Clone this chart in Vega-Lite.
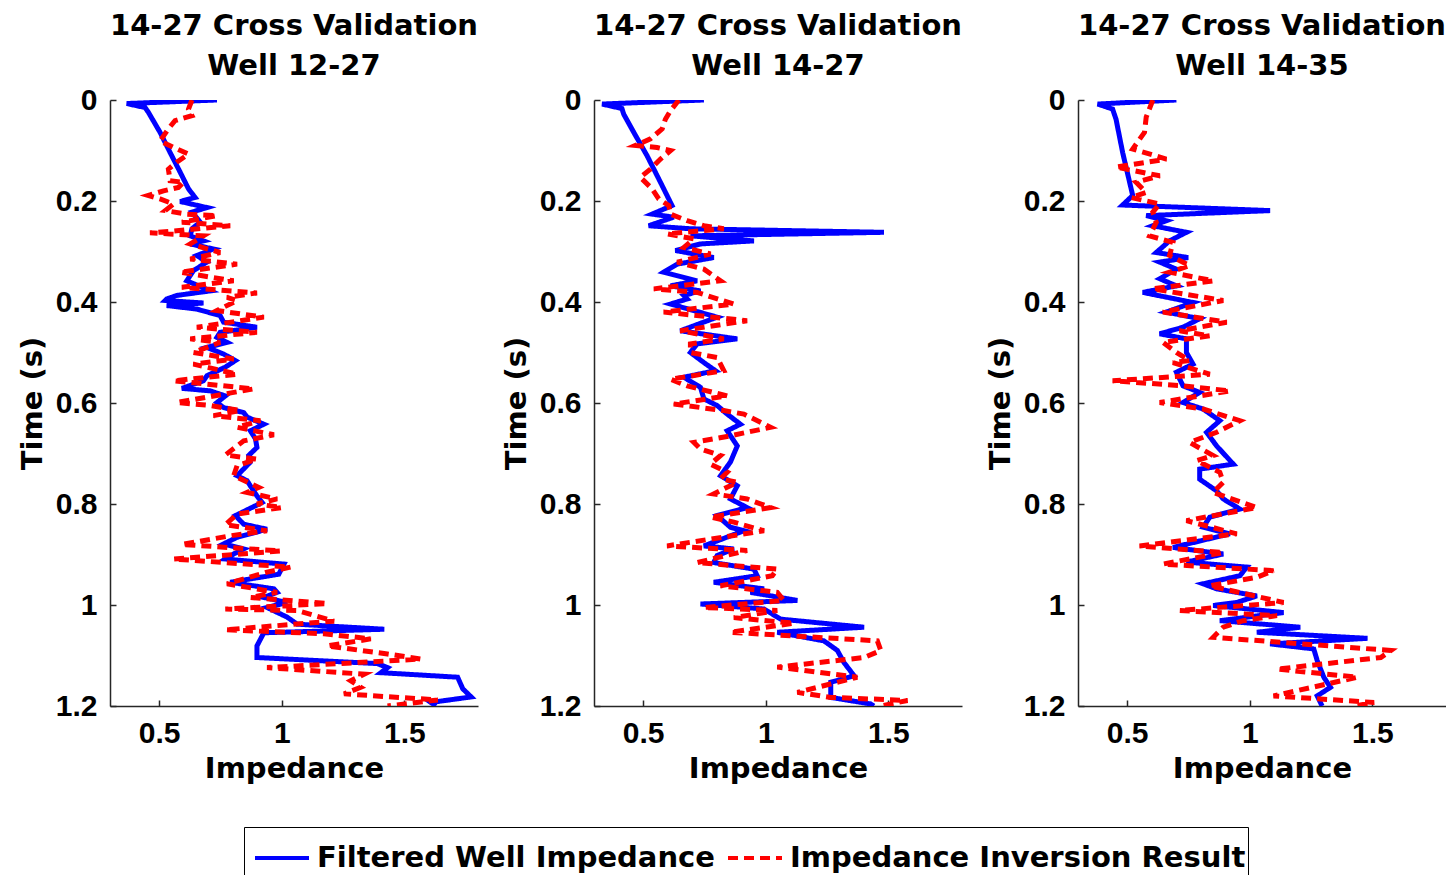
{
  "$schema": "https://vega.github.io/schema/vega-lite/v6.json",
  "background": "white",
  "padding": {"left": 18, "top": 12, "right": 0, "bottom": 0},
  "autosize": {"type": "pad"},
  "spacing": 24,
  "datasets": {
    "p1": [
      {"s":"well","t":0,"v":0.736},{"s":"well","t":0.007,"v":0.368},{"s":"well","t":0.015,"v":0.443},{"s":"well","t":0.024,"v":0.456},{"s":"well","t":0.064,"v":0.504},{"s":"well","t":0.104,"v":0.545},{"s":"well","t":0.143,"v":0.586},{"s":"well","t":0.176,"v":0.62},{"s":"well","t":0.193,"v":0.647},{"s":"well","t":0.201,"v":0.586},{"s":"well","t":0.213,"v":0.695},{"s":"well","t":0.222,"v":0.634},{"s":"well","t":0.242,"v":0.668},{"s":"well","t":0.255,"v":0.634},{"s":"well","t":0.269,"v":0.627},{"s":"well","t":0.279,"v":0.681},{"s":"well","t":0.285,"v":0.627},{"s":"well","t":0.295,"v":0.722},{"s":"well","t":0.308,"v":0.654},{"s":"well","t":0.321,"v":0.695},{"s":"well","t":0.338,"v":0.64},{"s":"well","t":0.358,"v":0.613},{"s":"well","t":0.378,"v":0.709},{"s":"well","t":0.387,"v":0.572},{"s":"well","t":0.394,"v":0.531},{"s":"well","t":0.397,"v":0.525},{"s":"well","t":0.402,"v":0.681},{"s":"well","t":0.407,"v":0.531},{"s":"well","t":0.414,"v":0.654},{"s":"well","t":0.427,"v":0.749},{"s":"well","t":0.44,"v":0.763},{"s":"well","t":0.45,"v":0.899},{"s":"well","t":0.46,"v":0.749},{"s":"well","t":0.47,"v":0.736},{"s":"well","t":0.48,"v":0.777},{"s":"well","t":0.49,"v":0.695},{"s":"well","t":0.503,"v":0.763},{"s":"well","t":0.516,"v":0.811},{"s":"well","t":0.529,"v":0.77},{"s":"well","t":0.546,"v":0.695},{"s":"well","t":0.556,"v":0.681},{"s":"well","t":0.571,"v":0.593},{"s":"well","t":0.576,"v":0.709},{"s":"well","t":0.586,"v":0.77},{"s":"well","t":0.599,"v":0.736},{"s":"well","t":0.609,"v":0.763},{"s":"well","t":0.619,"v":0.845},{"s":"well","t":0.628,"v":0.859},{"s":"well","t":0.642,"v":0.927},{"s":"well","t":0.655,"v":0.872},{"s":"well","t":0.671,"v":0.893},{"s":"well","t":0.688,"v":0.899},{"s":"well","t":0.704,"v":0.865},{"s":"well","t":0.717,"v":0.872},{"s":"well","t":0.744,"v":0.818},{"s":"well","t":0.754,"v":0.859},{"s":"well","t":0.764,"v":0.872},{"s":"well","t":0.784,"v":0.899},{"s":"well","t":0.797,"v":0.92},{"s":"well","t":0.823,"v":0.811},{"s":"well","t":0.84,"v":0.845},{"s":"well","t":0.85,"v":0.94},{"s":"well","t":0.866,"v":0.818},{"s":"well","t":0.879,"v":0.763},{"s":"well","t":0.889,"v":0.845},{"s":"well","t":0.899,"v":0.804},{"s":"well","t":0.909,"v":0.77},{"s":"well","t":0.919,"v":1.009},{"s":"well","t":0.939,"v":0.988},{"s":"well","t":0.955,"v":0.79},{"s":"well","t":0.968,"v":0.968},{"s":"well","t":0.975,"v":0.981},{"s":"well","t":0.985,"v":0.927},{"s":"well","t":0.995,"v":1.022},{"s":"well","t":1.005,"v":0.94},{"s":"well","t":1.024,"v":1.022},{"s":"well","t":1.038,"v":1.063},{"s":"well","t":1.048,"v":1.418},{"s":"well","t":1.055,"v":0.927},{"s":"well","t":1.081,"v":0.899},{"s":"well","t":1.104,"v":0.899},{"s":"well","t":1.116,"v":1.39},{"s":"well","t":1.124,"v":1.431},{"s":"well","t":1.134,"v":1.404},{"s":"well","t":1.143,"v":1.717},{"s":"well","t":1.166,"v":1.738},{"s":"well","t":1.182,"v":1.772},{"s":"well","t":1.193,"v":1.608},{"s":"well","t":1.2,"v":1.629},
      {"s":"inv","t":0,"v":0.634},{"s":"inv","t":0.018,"v":0.62},{"s":"inv","t":0.031,"v":0.634},{"s":"inv","t":0.041,"v":0.565},{"s":"inv","t":0.057,"v":0.538},{"s":"inv","t":0.081,"v":0.504},{"s":"inv","t":0.094,"v":0.559},{"s":"inv","t":0.107,"v":0.62},{"s":"inv","t":0.123,"v":0.572},{"s":"inv","t":0.137,"v":0.538},{"s":"inv","t":0.16,"v":0.545},{"s":"inv","t":0.163,"v":0.6},{"s":"inv","t":0.173,"v":0.579},{"s":"inv","t":0.18,"v":0.518},{"s":"inv","t":0.189,"v":0.456},{"s":"inv","t":0.196,"v":0.504},{"s":"inv","t":0.206,"v":0.559},{"s":"inv","t":0.219,"v":0.525},{"s":"inv","t":0.226,"v":0.613},{"s":"inv","t":0.229,"v":0.736},{"s":"inv","t":0.242,"v":0.593},{"s":"inv","t":0.249,"v":0.79},{"s":"inv","t":0.259,"v":0.572},{"s":"inv","t":0.263,"v":0.463},{"s":"inv","t":0.269,"v":0.681},{"s":"inv","t":0.285,"v":0.627},{"s":"inv","t":0.302,"v":0.749},{"s":"inv","t":0.315,"v":0.627},{"s":"inv","t":0.325,"v":0.818},{"s":"inv","t":0.341,"v":0.586},{"s":"inv","t":0.358,"v":0.804},{"s":"inv","t":0.371,"v":0.593},{"s":"inv","t":0.382,"v":0.899},{"s":"inv","t":0.391,"v":0.777},{"s":"inv","t":0.397,"v":0.818},{"s":"inv","t":0.417,"v":0.736},{"s":"inv","t":0.43,"v":0.927},{"s":"inv","t":0.45,"v":0.654},{"s":"inv","t":0.46,"v":0.899},{"s":"inv","t":0.473,"v":0.627},{"s":"inv","t":0.48,"v":0.749},{"s":"inv","t":0.5,"v":0.64},{"s":"inv","t":0.513,"v":0.804},{"s":"inv","t":0.523,"v":0.64},{"s":"inv","t":0.543,"v":0.818},{"s":"inv","t":0.556,"v":0.559},{"s":"inv","t":0.572,"v":0.886},{"s":"inv","t":0.599,"v":0.572},{"s":"inv","t":0.605,"v":0.709},{"s":"inv","t":0.615,"v":0.831},{"s":"inv","t":0.625,"v":0.722},{"s":"inv","t":0.635,"v":0.913},{"s":"inv","t":0.648,"v":0.818},{"s":"inv","t":0.663,"v":0.968},{"s":"inv","t":0.675,"v":0.845},{"s":"inv","t":0.703,"v":0.77},{"s":"inv","t":0.711,"v":0.899},{"s":"inv","t":0.724,"v":0.818},{"s":"inv","t":0.744,"v":0.804},{"s":"inv","t":0.767,"v":0.906},{"s":"inv","t":0.777,"v":0.859},{"s":"inv","t":0.79,"v":0.981},{"s":"inv","t":0.8,"v":0.899},{"s":"inv","t":0.807,"v":1.0},{"s":"inv","t":0.82,"v":0.818},{"s":"inv","t":0.841,"v":0.77},{"s":"inv","t":0.853,"v":0.94},{"s":"inv","t":0.863,"v":0.79},{"s":"inv","t":0.88,"v":0.593},{"s":"inv","t":0.893,"v":0.995},{"s":"inv","t":0.909,"v":0.559},{"s":"inv","t":0.925,"v":1.036},{"s":"inv","t":0.935,"v":0.94},{"s":"inv","t":0.958,"v":0.777},{"s":"inv","t":0.975,"v":0.981},{"s":"inv","t":0.985,"v":0.872},{"s":"inv","t":0.997,"v":1.186},{"s":"inv","t":1.008,"v":0.77},{"s":"inv","t":1.011,"v":1.063},{"s":"inv","t":1.032,"v":1.213},{"s":"inv","t":1.049,"v":0.77},{"s":"inv","t":1.057,"v":1.172},{"s":"inv","t":1.067,"v":1.363},{"s":"inv","t":1.081,"v":1.186},{"s":"inv","t":1.097,"v":1.431},{"s":"inv","t":1.107,"v":1.567},{"s":"inv","t":1.124,"v":0.94},{"s":"inv","t":1.137,"v":1.336},{"s":"inv","t":1.15,"v":1.281},{"s":"inv","t":1.163,"v":1.322},{"s":"inv","t":1.176,"v":1.254},{"s":"inv","t":1.188,"v":1.636},{"s":"inv","t":1.2,"v":1.431}
    ],
    "p2": [
      {"s":"well","t":0,"v":0.748},{"s":"well","t":0.008,"v":0.333},{"s":"well","t":0.017,"v":0.414},{"s":"well","t":0.028,"v":0.421},{"s":"well","t":0.064,"v":0.462},{"s":"well","t":0.11,"v":0.516},{"s":"well","t":0.163,"v":0.571},{"s":"well","t":0.209,"v":0.618},{"s":"well","t":0.226,"v":0.537},{"s":"well","t":0.232,"v":0.625},{"s":"well","t":0.249,"v":0.523},{"s":"well","t":0.255,"v":0.693},{"s":"well","t":0.262,"v":1.482},{"s":"well","t":0.269,"v":0.693},{"s":"well","t":0.279,"v":0.952},{"s":"well","t":0.285,"v":0.734},{"s":"well","t":0.298,"v":0.632},{"s":"well","t":0.312,"v":0.788},{"s":"well","t":0.325,"v":0.639},{"s":"well","t":0.341,"v":0.584},{"s":"well","t":0.358,"v":0.72},{"s":"well","t":0.368,"v":0.612},{"s":"well","t":0.378,"v":0.734},{"s":"well","t":0.387,"v":0.666},{"s":"well","t":0.394,"v":0.68},{"s":"well","t":0.404,"v":0.612},{"s":"well","t":0.43,"v":0.802},{"s":"well","t":0.457,"v":0.652},{"s":"well","t":0.473,"v":0.884},{"s":"well","t":0.483,"v":0.72},{"s":"well","t":0.5,"v":0.693},{"s":"well","t":0.52,"v":0.748},{"s":"well","t":0.536,"v":0.795},{"s":"well","t":0.549,"v":0.666},{"s":"well","t":0.569,"v":0.734},{"s":"well","t":0.592,"v":0.748},{"s":"well","t":0.605,"v":0.802},{"s":"well","t":0.622,"v":0.843},{"s":"well","t":0.642,"v":0.897},{"s":"well","t":0.655,"v":0.843},{"s":"well","t":0.685,"v":0.884},{"s":"well","t":0.717,"v":0.856},{"s":"well","t":0.744,"v":0.816},{"s":"well","t":0.764,"v":0.884},{"s":"well","t":0.79,"v":0.856},{"s":"well","t":0.807,"v":0.924},{"s":"well","t":0.823,"v":0.802},{"s":"well","t":0.846,"v":0.856},{"s":"well","t":0.853,"v":0.911},{"s":"well","t":0.883,"v":0.748},{"s":"well","t":0.889,"v":0.87},{"s":"well","t":0.902,"v":0.802},{"s":"well","t":0.916,"v":0.788},{"s":"well","t":0.929,"v":0.952},{"s":"well","t":0.942,"v":0.965},{"s":"well","t":0.955,"v":0.788},{"s":"well","t":0.968,"v":0.993},{"s":"well","t":0.975,"v":0.938},{"s":"well","t":0.991,"v":1.129},{"s":"well","t":0.998,"v":0.734},{"s":"well","t":1.008,"v":0.993},{"s":"well","t":1.028,"v":1.061},{"s":"well","t":1.044,"v":1.401},{"s":"well","t":1.054,"v":1.047},{"s":"well","t":1.071,"v":1.237},{"s":"well","t":1.09,"v":1.292},{"s":"well","t":1.114,"v":1.319},{"s":"well","t":1.14,"v":1.36},{"s":"well","t":1.153,"v":1.265},{"s":"well","t":1.17,"v":1.265},{"s":"well","t":1.183,"v":1.265},{"s":"well","t":1.196,"v":1.428},{"s":"well","t":1.2,"v":1.441},
      {"s":"inv","t":0,"v":0.646},{"s":"inv","t":0.021,"v":0.612},{"s":"inv","t":0.038,"v":0.591},{"s":"inv","t":0.057,"v":0.578},{"s":"inv","t":0.077,"v":0.53},{"s":"inv","t":0.09,"v":0.469},{"s":"inv","t":0.094,"v":0.557},{"s":"inv","t":0.1,"v":0.612},{"s":"inv","t":0.117,"v":0.571},{"s":"inv","t":0.137,"v":0.53},{"s":"inv","t":0.153,"v":0.489},{"s":"inv","t":0.176,"v":0.537},{"s":"inv","t":0.196,"v":0.564},{"s":"inv","t":0.209,"v":0.605},{"s":"inv","t":0.226,"v":0.612},{"s":"inv","t":0.239,"v":0.68},{"s":"inv","t":0.249,"v":0.748},{"s":"inv","t":0.255,"v":0.829},{"s":"inv","t":0.265,"v":0.598},{"s":"inv","t":0.275,"v":0.707},{"s":"inv","t":0.292,"v":0.666},{"s":"inv","t":0.305,"v":0.775},{"s":"inv","t":0.321,"v":0.639},{"s":"inv","t":0.335,"v":0.748},{"s":"inv","t":0.358,"v":0.816},{"s":"inv","t":0.374,"v":0.544},{"s":"inv","t":0.381,"v":0.72},{"s":"inv","t":0.404,"v":0.87},{"s":"inv","t":0.42,"v":0.584},{"s":"inv","t":0.437,"v":0.924},{"s":"inv","t":0.457,"v":0.652},{"s":"inv","t":0.473,"v":0.829},{"s":"inv","t":0.483,"v":0.693},{"s":"inv","t":0.5,"v":0.693},{"s":"inv","t":0.51,"v":0.802},{"s":"inv","t":0.536,"v":0.829},{"s":"inv","t":0.553,"v":0.612},{"s":"inv","t":0.566,"v":0.68},{"s":"inv","t":0.586,"v":0.843},{"s":"inv","t":0.602,"v":0.625},{"s":"inv","t":0.615,"v":0.829},{"s":"inv","t":0.622,"v":0.911},{"s":"inv","t":0.648,"v":1.02},{"s":"inv","t":0.665,"v":0.856},{"s":"inv","t":0.678,"v":0.707},{"s":"inv","t":0.691,"v":0.734},{"s":"inv","t":0.704,"v":0.816},{"s":"inv","t":0.721,"v":0.775},{"s":"inv","t":0.737,"v":0.843},{"s":"inv","t":0.75,"v":0.816},{"s":"inv","t":0.757,"v":0.884},{"s":"inv","t":0.78,"v":0.788},{"s":"inv","t":0.79,"v":0.924},{"s":"inv","t":0.807,"v":1.02},{"s":"inv","t":0.826,"v":0.775},{"s":"inv","t":0.836,"v":0.87},{"s":"inv","t":0.853,"v":0.993},{"s":"inv","t":0.883,"v":0.598},{"s":"inv","t":0.892,"v":0.924},{"s":"inv","t":0.916,"v":0.72},{"s":"inv","t":0.929,"v":1.047},{"s":"inv","t":0.942,"v":1.027},{"s":"inv","t":0.962,"v":0.816},{"s":"inv","t":0.975,"v":1.047},{"s":"inv","t":0.991,"v":1.074},{"s":"inv","t":1.005,"v":0.748},{"s":"inv","t":1.011,"v":1.047},{"s":"inv","t":1.025,"v":0.87},{"s":"inv","t":1.036,"v":1.115},{"s":"inv","t":1.054,"v":0.856},{"s":"inv","t":1.071,"v":1.455},{"s":"inv","t":1.09,"v":1.469},{"s":"inv","t":1.104,"v":1.401},{"s":"inv","t":1.123,"v":1.047},{"s":"inv","t":1.143,"v":1.373},{"s":"inv","t":1.173,"v":1.129},{"s":"inv","t":1.183,"v":1.265},{"s":"inv","t":1.189,"v":1.578},{"s":"inv","t":1.2,"v":1.469}
    ],
    "p3": [
      {"s":"well","t":0,"v":0.701},{"s":"well","t":0.008,"v":0.38},{"s":"well","t":0.018,"v":0.441},{"s":"well","t":0.038,"v":0.455},{"s":"well","t":0.104,"v":0.482},{"s":"well","t":0.189,"v":0.523},{"s":"well","t":0.208,"v":0.482},{"s":"well","t":0.219,"v":1.083},{"s":"well","t":0.229,"v":0.578},{"s":"well","t":0.239,"v":0.66},{"s":"well","t":0.249,"v":0.605},{"s":"well","t":0.262,"v":0.742},{"s":"well","t":0.279,"v":0.673},{"s":"well","t":0.302,"v":0.619},{"s":"well","t":0.312,"v":0.749},{"s":"well","t":0.321,"v":0.633},{"s":"well","t":0.335,"v":0.701},{"s":"well","t":0.354,"v":0.633},{"s":"well","t":0.368,"v":0.701},{"s":"well","t":0.381,"v":0.564},{"s":"well","t":0.401,"v":0.769},{"s":"well","t":0.42,"v":0.66},{"s":"well","t":0.433,"v":0.796},{"s":"well","t":0.45,"v":0.728},{"s":"well","t":0.463,"v":0.633},{"s":"well","t":0.473,"v":0.742},{"s":"well","t":0.5,"v":0.742},{"s":"well","t":0.523,"v":0.769},{"s":"well","t":0.539,"v":0.701},{"s":"well","t":0.566,"v":0.728},{"s":"well","t":0.579,"v":0.796},{"s":"well","t":0.599,"v":0.728},{"s":"well","t":0.612,"v":0.81},{"s":"well","t":0.635,"v":0.878},{"s":"well","t":0.658,"v":0.824},{"s":"well","t":0.685,"v":0.865},{"s":"well","t":0.721,"v":0.933},{"s":"well","t":0.731,"v":0.796},{"s":"well","t":0.751,"v":0.796},{"s":"well","t":0.774,"v":0.865},{"s":"well","t":0.79,"v":0.892},{"s":"well","t":0.81,"v":0.96},{"s":"well","t":0.826,"v":0.837},{"s":"well","t":0.846,"v":0.81},{"s":"well","t":0.859,"v":0.919},{"s":"well","t":0.886,"v":0.687},{"s":"well","t":0.899,"v":0.892},{"s":"well","t":0.915,"v":0.742},{"s":"well","t":0.925,"v":0.988},{"s":"well","t":0.942,"v":0.96},{"s":"well","t":0.958,"v":0.81},{"s":"well","t":0.968,"v":0.865},{"s":"well","t":0.982,"v":1.029},{"s":"well","t":0.995,"v":0.947},{"s":"well","t":1.001,"v":0.851},{"s":"well","t":1.015,"v":1.138},{"s":"well","t":1.031,"v":0.878},{"s":"well","t":1.044,"v":1.206},{"s":"well","t":1.054,"v":1.029},{"s":"well","t":1.066,"v":1.48},{"s":"well","t":1.077,"v":1.083},{"s":"well","t":1.087,"v":1.261},{"s":"well","t":1.11,"v":1.275},{"s":"well","t":1.143,"v":1.302},{"s":"well","t":1.163,"v":1.329},{"s":"well","t":1.18,"v":1.275},{"s":"well","t":1.2,"v":1.295},
      {"s":"inv","t":0,"v":0.605},{"s":"inv","t":0.034,"v":0.578},{"s":"inv","t":0.064,"v":0.571},{"s":"inv","t":0.097,"v":0.523},{"s":"inv","t":0.117,"v":0.66},{"s":"inv","t":0.133,"v":0.455},{"s":"inv","t":0.15,"v":0.633},{"s":"inv","t":0.163,"v":0.537},{"s":"inv","t":0.183,"v":0.578},{"s":"inv","t":0.193,"v":0.516},{"s":"inv","t":0.206,"v":0.633},{"s":"inv","t":0.222,"v":0.605},{"s":"inv","t":0.242,"v":0.619},{"s":"inv","t":0.269,"v":0.592},{"s":"inv","t":0.282,"v":0.687},{"s":"inv","t":0.308,"v":0.673},{"s":"inv","t":0.328,"v":0.755},{"s":"inv","t":0.341,"v":0.673},{"s":"inv","t":0.358,"v":0.851},{"s":"inv","t":0.374,"v":0.605},{"s":"inv","t":0.397,"v":0.892},{"s":"inv","t":0.42,"v":0.646},{"s":"inv","t":0.44,"v":0.906},{"s":"inv","t":0.457,"v":0.714},{"s":"inv","t":0.467,"v":0.837},{"s":"inv","t":0.48,"v":0.646},{"s":"inv","t":0.5,"v":0.701},{"s":"inv","t":0.516,"v":0.755},{"s":"inv","t":0.52,"v":0.687},{"s":"inv","t":0.543,"v":0.837},{"s":"inv","t":0.556,"v":0.441},{"s":"inv","t":0.566,"v":0.728},{"s":"inv","t":0.576,"v":0.919},{"s":"inv","t":0.599,"v":0.633},{"s":"inv","t":0.612,"v":0.81},{"s":"inv","t":0.635,"v":0.96},{"s":"inv","t":0.658,"v":0.865},{"s":"inv","t":0.678,"v":0.755},{"s":"inv","t":0.704,"v":0.851},{"s":"inv","t":0.714,"v":0.783},{"s":"inv","t":0.737,"v":0.878},{"s":"inv","t":0.757,"v":0.892},{"s":"inv","t":0.777,"v":0.851},{"s":"inv","t":0.807,"v":1.029},{"s":"inv","t":0.833,"v":0.742},{"s":"inv","t":0.859,"v":0.947},{"s":"inv","t":0.883,"v":0.551},{"s":"inv","t":0.896,"v":0.892},{"s":"inv","t":0.919,"v":0.646},{"s":"inv","t":0.932,"v":1.097},{"s":"inv","t":0.945,"v":1.029},{"s":"inv","t":0.962,"v":0.837},{"s":"inv","t":0.995,"v":1.138},{"s":"inv","t":1.011,"v":0.714},{"s":"inv","t":1.021,"v":1.111},{"s":"inv","t":1.031,"v":0.974},{"s":"inv","t":1.044,"v":0.892},{"s":"inv","t":1.064,"v":0.851},{"s":"inv","t":1.09,"v":1.575},{"s":"inv","t":1.104,"v":1.534},{"s":"inv","t":1.127,"v":1.111},{"s":"inv","t":1.143,"v":1.439},{"s":"inv","t":1.18,"v":1.097},{"s":"inv","t":1.193,"v":1.507},{"s":"inv","t":1.2,"v":1.425}
    ]
  },
  "hconcat": [
    {
      "title": {"text": ["14-27 Cross Validation", "Well 12-27"]},
      "width": 368, "height": 606,
      "data": {"name": "p1"},
      "mark": {"type": "line", "strokeWidth": 5, "clip": true},
      "encoding": {
        "x": {"field": "v", "type": "quantitative", "scale": {"domain": [0.3, 1.8], "nice": false, "zero": false}, "axis": {"values": [0.5, 1, 1.5], "format": "~g", "title": "Impedance"}},
        "y": {"field": "t", "type": "quantitative", "scale": {"domain": [0, 1.2], "reverse": true, "nice": false, "zero": false}, "axis": {"values": [0, 0.2, 0.4, 0.6, 0.8, 1, 1.2], "format": "~g", "title": "Time (s)"}},
        "color": {"field": "s", "type": "nominal", "scale": {"domain": ["well", "inv"], "range": ["#0000ff", "#ff0000"]}, "legend": {"title": null, "labelExpr": "datum.value == 'well' ? 'Filtered Well Impedance' : 'Impedance Inversion Result'", "orient": "none", "legendX": 134, "legendY": 727, "direction": "horizontal"}},
        "strokeDash": {"field": "s", "type": "nominal", "scale": {"domain": ["well", "inv"], "range": [[1, 0], [10, 6]]}, "legend": {"title": null, "labelExpr": "datum.value == 'well' ? 'Filtered Well Impedance' : 'Impedance Inversion Result'", "orient": "none", "legendX": 134, "legendY": 727, "direction": "horizontal"}},
        "order": {"field": "t", "type": "quantitative"}
      }
    },
    {
      "title": {"text": ["14-27 Cross Validation", "Well 14-27"]},
      "width": 368, "height": 606,
      "data": {"name": "p2"},
      "mark": {"type": "line", "strokeWidth": 5, "clip": true},
      "encoding": {
        "x": {"field": "v", "type": "quantitative", "scale": {"domain": [0.3, 1.8], "nice": false, "zero": false}, "axis": {"values": [0.5, 1, 1.5], "format": "~g", "title": "Impedance"}},
        "y": {"field": "t", "type": "quantitative", "scale": {"domain": [0, 1.2], "reverse": true, "nice": false, "zero": false}, "axis": {"values": [0, 0.2, 0.4, 0.6, 0.8, 1, 1.2], "format": "~g", "title": "Time (s)"}},
        "color": {"field": "s", "type": "nominal", "scale": {"domain": ["well", "inv"], "range": ["#0000ff", "#ff0000"]}, "legend": {"title": null, "labelExpr": "datum.value == 'well' ? 'Filtered Well Impedance' : 'Impedance Inversion Result'", "orient": "none", "legendX": 134, "legendY": 727, "direction": "horizontal"}},
        "strokeDash": {"field": "s", "type": "nominal", "scale": {"domain": ["well", "inv"], "range": [[1, 0], [10, 6]]}, "legend": {"title": null, "labelExpr": "datum.value == 'well' ? 'Filtered Well Impedance' : 'Impedance Inversion Result'", "orient": "none", "legendX": 134, "legendY": 727, "direction": "horizontal"}},
        "order": {"field": "t", "type": "quantitative"}
      }
    },
    {
      "title": {"text": ["14-27 Cross Validation", "Well 14-35"]},
      "width": 368, "height": 606,
      "data": {"name": "p3"},
      "mark": {"type": "line", "strokeWidth": 5, "clip": true},
      "encoding": {
        "x": {"field": "v", "type": "quantitative", "scale": {"domain": [0.3, 1.8], "nice": false, "zero": false}, "axis": {"values": [0.5, 1, 1.5], "format": "~g", "title": "Impedance"}},
        "y": {"field": "t", "type": "quantitative", "scale": {"domain": [0, 1.2], "reverse": true, "nice": false, "zero": false}, "axis": {"values": [0, 0.2, 0.4, 0.6, 0.8, 1, 1.2], "format": "~g", "title": "Time (s)"}},
        "color": {"field": "s", "type": "nominal", "scale": {"domain": ["well", "inv"], "range": ["#0000ff", "#ff0000"]}, "legend": {"title": null, "labelExpr": "datum.value == 'well' ? 'Filtered Well Impedance' : 'Impedance Inversion Result'", "orient": "none", "legendX": 134, "legendY": 727, "direction": "horizontal"}},
        "strokeDash": {"field": "s", "type": "nominal", "scale": {"domain": ["well", "inv"], "range": [[1, 0], [10, 6]]}, "legend": {"title": null, "labelExpr": "datum.value == 'well' ? 'Filtered Well Impedance' : 'Impedance Inversion Result'", "orient": "none", "legendX": 134, "legendY": 727, "direction": "horizontal"}},
        "order": {"field": "t", "type": "quantitative"}
      }
    }
  ],
  "resolve": {"scale": {"color": "shared", "strokeDash": "shared"}, "legend": {"color": "shared", "strokeDash": "shared"}},
  "config": {
    "view": {"stroke": null},
    "title": {"font": "DejaVu Sans", "fontSize": 29, "fontWeight": "bold", "color": "black", "lineHeight": 40, "offset": 4, "anchor": "middle", "frame": "group"},
    "axis": {"domainColor": "#262626", "domainWidth": 1.5, "tickColor": "#262626", "tickWidth": 1.5, "tickSize": -6, "grid": false, "labelFont": "Liberation Sans", "labelFontSize": 30, "labelFontWeight": "bold", "labelColor": "black", "labelOverlap": false, "labelFlush": false, "titleFont": "DejaVu Sans", "titleFontSize": 29, "titleFontWeight": "bold", "titleColor": "black"},
    "axisX": {"labelPadding": 18, "titlePadding": 6},
    "axisY": {"labelPadding": 19, "titlePadding": 8},
    "legend": {"symbolType": "stroke", "symbolSize": 2916, "symbolStrokeWidth": 4, "symbolOffset": 7, "labelFont": "DejaVu Sans", "labelFontSize": 29, "labelFontWeight": "bold", "labelColor": "black", "labelLimit": 1000, "labelOffset": 6, "columnPadding": 4, "strokeColor": "black", "padding": 2, "fillColor": "white"}
  }
}
